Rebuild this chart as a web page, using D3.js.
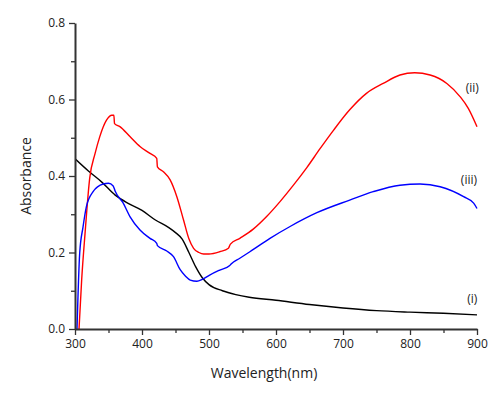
<!DOCTYPE html>
<meta charset="utf-8">
<script src="https://cdn.jsdelivr.net/npm/d3@7"></script>
<style>
  body { margin: 0; background: #fff; }
  text { font-family: "Open Sans", "Noto Sans", sans-serif; fill: #222; }
</style>
<body>
<script>

var width = 500
var height = 395

// (i) black
var wl_i = [300, 320, 340, 360, 380, 400, 420, 440, 450, 460, 470, 480, 490, 500, 520, 540, 560, 600, 650, 700, 750, 800, 850, 900]
var abs_i = [0.445, 0.413, 0.384, 0.35, 0.328, 0.31, 0.285, 0.265, 0.252, 0.235, 0.2, 0.163, 0.134, 0.116, 0.1, 0.09, 0.083, 0.075, 0.064, 0.055, 0.048, 0.044, 0.041, 0.037]

// (ii) red
var wl_ii = [306, 310, 315, 322, 330, 337, 347, 355, 358, 359, 367, 382, 397, 412, 422, 423, 432, 442, 452, 462, 470, 477, 485, 492, 500, 516, 529, 532, 546, 566, 586, 606, 626, 646, 666, 686, 710, 735, 760, 785, 807, 830, 855, 875, 887, 900]
var abs_ii = [0.0, 0.13, 0.25, 0.395, 0.459, 0.503, 0.546, 0.559, 0.559, 0.537, 0.529, 0.503, 0.477, 0.459, 0.446, 0.424, 0.411, 0.39, 0.346, 0.285, 0.236, 0.211, 0.2, 0.196, 0.196, 0.202, 0.211, 0.222, 0.237, 0.261, 0.294, 0.333, 0.376, 0.422, 0.472, 0.52, 0.573, 0.616, 0.642, 0.664, 0.67, 0.664, 0.642, 0.607, 0.577, 0.529]

// (iii) blue
var wl_iii = [303, 307, 312, 317, 327, 342, 350, 357, 360, 372, 382, 397, 412, 422, 423, 437, 447, 457, 465, 472, 482, 490, 501, 516, 531, 533, 546, 561, 591, 621, 661, 710, 745, 785, 815, 845, 880, 895, 900]
var abs_iii = [0.0, 0.198, 0.267, 0.32, 0.359, 0.379, 0.381, 0.374, 0.36, 0.329, 0.294, 0.259, 0.237, 0.224, 0.218, 0.204, 0.189, 0.155, 0.138, 0.128, 0.125, 0.13, 0.141, 0.154, 0.166, 0.17, 0.185, 0.202, 0.237, 0.268, 0.304, 0.337, 0.359, 0.376, 0.379, 0.372, 0.346, 0.329, 0.315]

var xMajor = [300, 400, 500, 600, 700, 800, 900]
var xMinor = [350, 450, 550, 650, 750, 850]
var yMajor = [0.0, 0.2, 0.4, 0.6, 0.8]
var yMinor = [0.1, 0.3, 0.5, 0.7]

var labels = [
  { text: "(ii)", wl: 893, a: 0.63 },
  { text: "(iii)", wl: 888, a: 0.39 },
  { text: "(i)", wl: 893, a: 0.08 }
]

var x = d3.scaleLinear().domain([300, 900]).range([75, 477])
var y = d3.scaleLinear().domain([0, 0.8]).range([329, 23])

var svg = d3.select("body").append("svg")
  .attr("width", width)
  .attr("height", height)

svg.append("clipPath").attr("id", "plot")
  .append("rect")
  .attr("x", x(300)).attr("y", y(0.8) - 5)
  .attr("width", x(900) - x(300) + 3).attr("height", y(0) - y(0.8) + 5)

var line = d3.line()
  .x(function(d) { return x(d[0]) })
  .y(function(d) { return y(d[1]) })
  .curve(d3.curveMonotoneX)

var series = [
  { wl: wl_i, a: abs_i, color: "#000000" },
  { wl: wl_ii, a: abs_ii, color: "#ff0000" },
  { wl: wl_iii, a: abs_iii, color: "#0000ff" }
]

var g = svg.append("g").attr("clip-path", "url(#plot)")
series.forEach(function(s) {
  var pts = s.wl.map(function(w, i) { return [w, s.a[i]] })
  g.append("path")
    .attr("d", line(pts))
    .attr("fill", "none")
    .attr("stroke", s.color)
    .attr("stroke-width", 1.4)
})

// axes
svg.append("g")
  .attr("transform", "translate(0," + y(0) + ")")
  .call(d3.axisBottom(x).tickValues(xMajor).tickSize(6).tickPadding(4).tickSizeOuter(0))
svg.append("g")
  .attr("transform", "translate(0," + y(0) + ")")
  .call(d3.axisBottom(x).tickValues(xMinor).tickSize(4).tickFormat("").tickSizeOuter(0))
  .select(".domain").remove()

svg.append("g")
  .attr("transform", "translate(" + x(300) + ",0)")
  .call(d3.axisLeft(y).tickValues(yMajor).tickSize(6).tickPadding(4).tickFormat(d3.format(".1f")).tickSizeOuter(0))
svg.append("g")
  .attr("transform", "translate(" + x(300) + ",0)")
  .call(d3.axisLeft(y).tickValues(yMinor).tickSize(4).tickFormat("").tickSizeOuter(0))
  .select(".domain").remove()

svg.selectAll(".domain").attr("stroke", "#333").attr("stroke-width", 2)
svg.selectAll(".tick line").attr("stroke", "#333").attr("stroke-width", 1.3)
svg.selectAll(".tick text").style("font-size", "12px").style("fill", "#222")

svg.append("text")
  .attr("transform", "translate(" + 31 + "," + 176 + ") rotate(-90)")
  .style("text-anchor", "middle")
  .style("font-size", "14px")
  .text("Absorbance")

svg.append("text")
  .attr("x", 264).attr("y", 378)
  .style("text-anchor", "middle")
  .style("font-size", "14px")
  .text("Wavelength(nm)")

svg.selectAll(".lab").data(labels).enter().append("text")
  .attr("class", "lab")
  .attr("x", function(d) { return x(d.wl) })
  .attr("y", function(d) { return y(d.a) })
  .attr("dy", "0.35em")
  .style("text-anchor", "middle")
  .style("font-size", "12px")
  .text(function(d) { return d.text })

</script>
</body>
